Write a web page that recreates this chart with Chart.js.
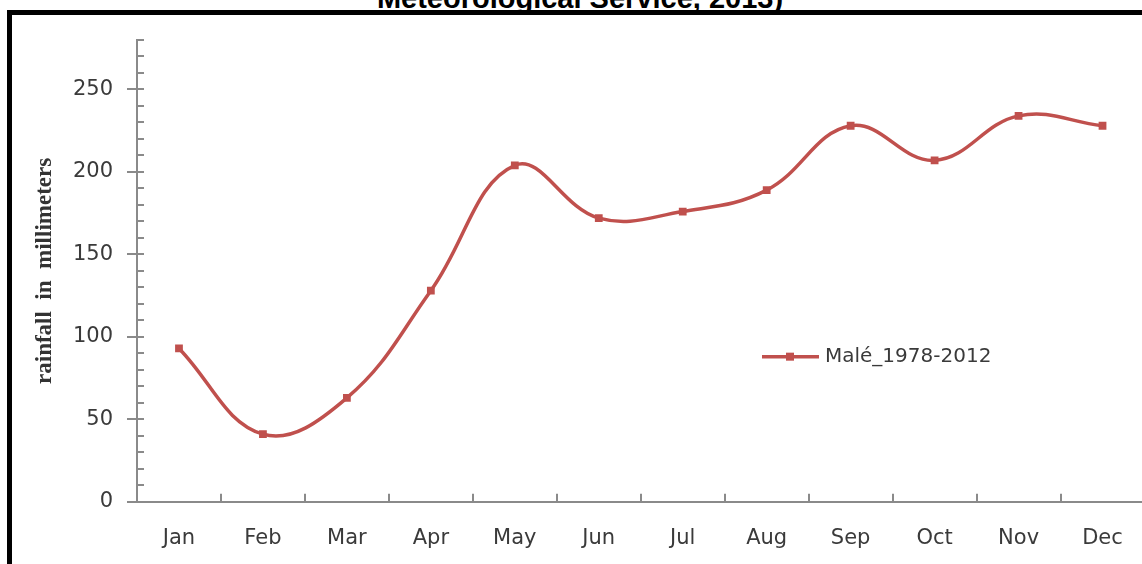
<!DOCTYPE html>
<html>
<head>
<meta charset="utf-8">
<script src="https://cdn.jsdelivr.net/npm/chart.js@4.4.1/dist/chart.umd.min.js"></script>
<style>
  html, body { margin: 0; padding: 0; background: #fff; overflow: hidden; width: 1142px; height: 564px; }
  #caption {
    position: absolute; left: 0; width: 1160px; top: -16px;
    text-align: center; font: bold 29px "Liberation Sans", Arial, sans-serif;
    line-height: 29px; color: #000; white-space: nowrap;
  }
  #frame {
    position: absolute; left: 7px; top: 10px; width: 1200px; height: 600px;
    border-left: 5px solid #000; border-top: 5px solid #000;
  }
  #wrap { position: absolute; left: 0; top: 0; width: 1150px; height: 585px; }
</style>
</head>
<body>
<div id="caption">Meteorological Service, 2013)</div>
<div id="frame"></div>
<div id="wrap"><canvas id="rainChart"></canvas></div>
<script>
const months = ['Jan', 'Feb', 'Mar', 'Apr', 'May', 'Jun', 'Jul', 'Aug', 'Sep', 'Oct', 'Nov', 'Dec'];
const rainfall = [93, 41, 63, 128, 204, 172, 176, 189, 228, 207, 234, 228];
const seriesName = 'Malé_1978-2012';
const yTitle = 'rainfall  in  millimeters';

const lineColor = '#c0504d';
const axisColor = '#8a8a8a';
const textColor = '#3a3a3a';

// small ticks like the Excel original: minor y ticks, upward x ticks, and the legend inside the plot
const excelTicks = {
    id: 'excelTicks',
    afterDraw(chart) {
        const { ctx, chartArea, scales } = chart;
        const y = scales.y;
        ctx.save();
        ctx.strokeStyle = axisColor;
        ctx.lineWidth = 2;
        ctx.beginPath();
        for (let v = 10; v <= 280; v += 10) {
            const py = Math.round(y.getPixelForValue(v));
            ctx.moveTo(chartArea.left, py);
            ctx.lineTo(chartArea.left + 7, py);
        }
        const step = chartArea.width / months.length;
        for (let i = 1; i <= months.length; i++) {
            const px = Math.round(chartArea.left + i * step);
            ctx.moveTo(px, chartArea.bottom);
            ctx.lineTo(px, chartArea.bottom - 8);
        }
        ctx.stroke();

        // legend
        const lx = chartArea.left + 625, ly = y.getPixelForValue(88);
        ctx.strokeStyle = lineColor;
        ctx.lineWidth = 3.5;
        ctx.beginPath();
        ctx.moveTo(lx, ly);
        ctx.lineTo(lx + 57, ly);
        ctx.stroke();
        ctx.fillStyle = lineColor;
        ctx.fillRect(lx + 24, ly - 4, 8, 8);
        ctx.fillStyle = textColor;
        ctx.font = '20px "DejaVu Sans"';
        ctx.textBaseline = 'middle';
        ctx.fillText(seriesName, lx + 63, ly);
        ctx.restore();
    }
};

new Chart(document.getElementById('rainChart'), {
    type: 'line',
    data: {
        labels: months,
        datasets: [{
            label: seriesName,
            data: rainfall,
            borderColor: lineColor,
            backgroundColor: lineColor,
            borderWidth: 3.5,
            tension: 0.4,
            pointStyle: 'rect',
            pointRadius: 5.5,
            pointBorderWidth: 0
        }]
    },
    options: {
        responsive: true,
        maintainAspectRatio: false,
        animation: false,
        layout: { padding: { left: 20, right: 3, top: 40, bottom: 10 } },
        plugins: {
            legend: { display: false },
            tooltip: { enabled: false }
        },
        scales: {
            x: {
                offset: true,
                grid: { display: true, drawOnChartArea: false, drawTicks: false, offset: true, color: 'transparent' },
                border: { color: axisColor, width: 2 },
                ticks: { color: textColor, padding: 24, font: { family: 'DejaVu Sans', size: 21 } }
            },
            y: {
                min: 0,
                max: 280,
                afterFit(scale) { scale.width = 117; },
                grid: { drawOnChartArea: false, tickLength: 10, color: axisColor, lineWidth: 2 },
                border: { color: axisColor, width: 2 },
                ticks: { stepSize: 50, includeBounds: false, padding: 14, color: textColor, font: { family: 'DejaVu Sans', size: 21 } },
                title: {
                    display: true,
                    text: yTitle,
                    color: '#333',
                    padding: { top: 11, bottom: 0 },
                    font: { family: 'Liberation Serif', size: 23, weight: 'bold' }
                }
            }
        }
    },
    plugins: [excelTicks]
});
</script>
</body>
</html>
